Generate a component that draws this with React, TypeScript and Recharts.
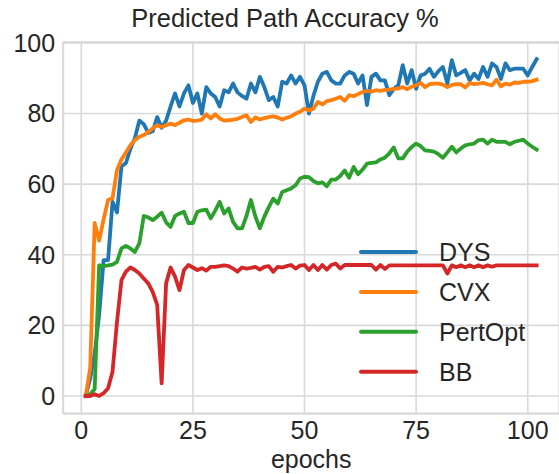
import React from 'react';
import { LineChart, Line, XAxis, YAxis, CartesianGrid, ReferenceLine, Legend } from 'recharts';

const epochs: number[] = [
  1, 2, 3, 4, 5, 6, 7, 8, 9, 10, 11, 12, 13, 14, 15, 16, 17, 18, 19, 20,
  21, 22, 23, 24, 25, 26, 27, 28, 29, 30, 31, 32, 33, 34, 35, 36, 37, 38, 39, 40,
  41, 42, 43, 44, 45, 46, 47, 48, 49, 50, 51, 52, 53, 54, 55, 56, 57, 58, 59, 60,
  61, 62, 63, 64, 65, 66, 67, 68, 69, 70, 71, 72, 73, 74, 75, 76, 77, 78, 79, 80,
  81, 82, 83, 84, 85, 86, 87, 88, 89, 90, 91, 92, 93, 94, 95, 96, 97, 98, 99, 100,
  101, 102,
];

const dys: number[] = [
  0, 5, 12, 23, 38.5, 38.5, 55, 52, 65, 66,
  70, 73, 78, 77, 74.5, 75, 79, 76, 78, 82,
  85.7, 82, 85.7, 88, 83, 85.7, 80, 87.5, 85.7, 84.7,
  82, 86.6, 86, 88.5, 86, 85, 84.2, 88.5, 86, 90.4,
  87.5, 83.8, 84.7, 82, 89, 88.5, 90.8, 88.5, 90.4, 88,
  80, 85, 89, 91.3, 91.8, 89.4, 88.5, 88.5, 90.8, 91.8,
  91.3, 88.5, 90.8, 82.4, 90.4, 91.3, 89.4, 89.4, 85.2, 87,
  88, 93.7, 88.5, 92.3, 87, 90.8, 91.3, 92.7, 90.4, 92,
  93.2, 88.5, 95.1, 90.8, 91.5, 92.3, 89.4, 91.3, 89.8, 93.2,
  90.4, 94.2, 93.2, 89.8, 94.2, 92.3, 92.7, 92.7, 92.7, 90.8,
  93.2, 95.4,
];

const cvx: number[] = [
  0, 8, 49, 44, 50, 55.5, 56, 64, 67, 69,
  71, 72.5, 73.4, 73.9, 74.8, 75.8, 76.7, 76.2, 76.7, 77.2,
  76.7, 77.4, 78.1, 78.3, 77.9, 78, 78.3, 79.8, 78.6, 79.8,
  78.6, 78, 78.1, 78.3, 78.5, 79, 79.5, 77.6, 78.9, 78.3,
  78.7, 79, 79.2, 78.9, 78.3, 78.8, 79.2, 80, 80.5, 81.4,
  80.9, 81.4, 83.3, 82.6, 83.5, 83.8, 84.2, 84.7, 83.6, 85.2,
  84.9, 85.5, 86.1, 86.4, 86.2, 86.6, 86.4, 86.7, 86.8, 87,
  87.1, 87.5, 86.9, 87.6, 88, 88.7, 87.5, 88.3, 88.5, 88.5,
  88.2, 87.5, 88.1, 88.3, 88.3, 87.4, 88.7, 88.3, 88.5, 88.7,
  88.3, 88, 89.6, 87.7, 88.5, 88.2, 88.8, 88.7, 89, 89,
  89.2, 89.6,
];

const pertOpt: number[] = [
  0, 0.5, 2, 37, 36.8, 37, 37.2, 38, 41.8, 42.5,
  41.8, 40.8, 43.2, 51, 50.6, 49.8, 50.8, 51.9, 49.2, 47.9,
  51, 51.7, 52.2, 49, 49, 52.2, 52.6, 52.8, 50.3, 52.5,
  55, 51.7, 53.1, 49.3, 47.5, 47.5, 51, 55.5, 50.8, 47.5,
  50.8, 53.5, 55.9, 54.5, 57.8, 58.3, 58.8, 59.7, 61.6, 62.1,
  62, 60.9, 60.2, 60.5, 59.4, 61.3, 61.3, 62.3, 63.9, 61.8,
  64.9, 62.8, 64.1, 65.8, 66, 66.2, 67, 67.5, 68.7, 70.4,
  67.3, 67.3, 69.2, 70.5, 71.5, 70.8, 69.6, 69.4, 69.2, 68.5,
  67.5, 69, 70.6, 69, 70.1, 71, 71.3, 71.5, 72.5, 72.6,
  71.5, 72.6, 72, 72, 72, 71.3, 72, 72.3, 72.6, 71.5,
  70.6, 69.8,
];

const bb: number[] = [
  0, 0, 0.5, 0, 0.8, 2.2, 6.9, 21, 32.8, 35.2,
  36.4, 35.7, 34.7, 33.3, 31.9, 29.5, 25.8, 3.6, 31.9, 36.4,
  33.8, 30, 35.7, 37.1, 36.4, 35.7, 36.2, 35.5, 36.6, 36.6,
  36.8, 37, 36.8, 36.1, 35.2, 36.4, 36.1, 36.3, 36.6, 35.8,
  36.6, 36.8, 35.2, 36.6, 36.4, 36.8, 37.1, 36.1, 36.9, 37.1,
  35.7, 37.1, 35.7, 37.1, 35.8, 37.1, 37.5, 36.1, 37.1, 37.1,
  37.1, 37.1, 37.1, 37.1, 37.1, 35.8, 37.1, 36, 37, 37,
  37, 37, 37, 37, 37, 37, 37, 37, 37, 37,
  37, 34.7, 37, 36.5, 37, 36.5, 37, 36.5, 37, 36.5,
  37, 36.6, 37, 37, 37, 37, 37, 37, 37, 37,
  37, 37,
];

const xTicks: number[] = [0, 25, 50, 75, 100];
const yTicks: number[] = [0, 20, 40, 60, 80, 100];

const X_MIN = -4.05;
const X_MAX = 107.05;
const Y_MIN = -4.98;
const Y_MAX = 100.18;

const C_DYS = '#1f77b4';
const C_CVX = '#ff7f0e';
const C_PERT = '#2ca02c';
const C_BB = '#d62728';

const FONT = '"Liberation Sans", Arial, sans-serif';
const TEXT = '#262626';
const GRID = '#d9d9d9';

const seriesList = [
  { key: 'DYS', color: C_DYS },
  { key: 'CVX', color: C_CVX },
  { key: 'PertOpt', color: C_PERT },
  { key: 'BB', color: C_BB },
];

const data = epochs.map((e, i) => ({
  epoch: e,
  DYS: dys[i],
  CVX: cvx[i],
  PertOpt: pertOpt[i],
  BB: bb[i],
}));

const renderLegend = () => (
  <svg width={200} height={160} style={{ overflow: 'visible', display: 'block' }}>
    {seriesList.map((s, i) => {
      const cy = 20 + i * 39.9;
      return (
        <g key={s.key}>
          <line x1={11} x2={66} y1={cy} y2={cy} stroke={s.color} strokeWidth={4} strokeLinecap="round" />
          <text x={89} y={cy + 9} fontSize={25} fill={TEXT} fontFamily={FONT}>
            {s.key}
          </text>
        </g>
      );
    })}
  </svg>
);

export default function App() {
  return (
    <div
      style={{
        position: 'absolute',
        left: 0,
        top: 0,
        width: 559,
        height: 474,
        overflow: 'hidden',
        background: '#ffffff',
      }}
    >
      <LineChart
        width={560}
        height={474}
        data={data}
        margin={{ top: 42.3, right: 0.8, bottom: 0, left: 0 }}
        style={{ fontFamily: FONT }}
      >
        <CartesianGrid stroke={GRID} strokeWidth={1.6} />
        <XAxis
          dataKey="epoch"
          type="number"
          domain={[X_MIN, X_MAX]}
          ticks={xTicks}
          allowDataOverflow
          tickLine={false}
          axisLine={{ stroke: GRID, strokeWidth: 2 }}
          tick={{ fontSize: 25, fill: TEXT, fontFamily: FONT }}
          height={60.4}
          label={{ value: 'epochs', position: 'insideBottom', offset: 6, fontSize: 25, fill: TEXT, fontFamily: FONT }}
        />
        <YAxis
          type="number"
          domain={[Y_MIN, Y_MAX]}
          ticks={yTicks}
          allowDataOverflow
          tickLine={false}
          axisLine={{ stroke: GRID, strokeWidth: 2 }}
          tick={{ fontSize: 25, fill: TEXT, fontFamily: FONT }}
          width={63.2}
        />
        <ReferenceLine y={Y_MAX} stroke={GRID} strokeWidth={2} />
        {seriesList.map((s) => (
          <Line
            key={s.key}
            type="linear"
            dataKey={s.key}
            stroke={s.color}
            strokeWidth={3.8}
            strokeLinejoin="round"
            strokeLinecap="square"
            dot={false}
            activeDot={false}
            isAnimationActive={false}
          />
        ))}
        <Legend
          content={renderLegend}
          layout="horizontal"
          verticalAlign="middle"
          align="center"
          wrapperStyle={{ position: 'absolute', left: 350, top: 232, width: 200, height: 160 }}
        />
      </LineChart>
      <svg
        width={559}
        height={40}
        style={{ position: 'absolute', left: 0, top: 0, pointerEvents: 'none' }}
      >
        <text x={285} y={27.3} textAnchor="middle" fontSize={25.5} fill={TEXT} fontFamily={FONT}>
          Predicted Path Accuracy %
        </text>
      </svg>
    </div>
  );
}
